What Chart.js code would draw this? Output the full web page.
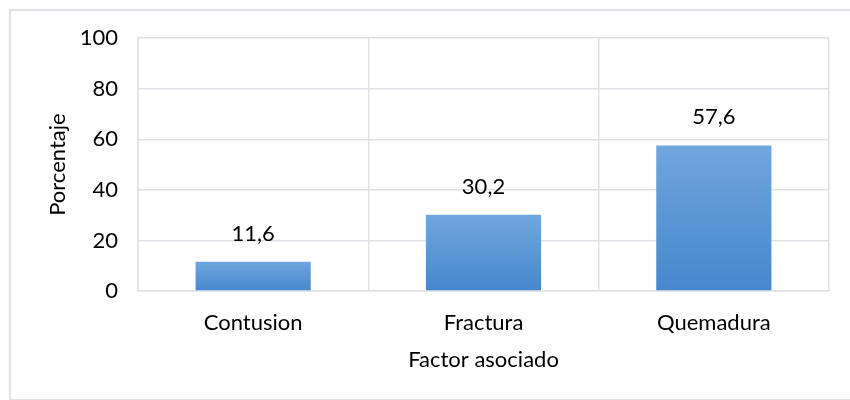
<!DOCTYPE html>
<html>
<head>
<meta charset="utf-8">
<script src="https://cdn.jsdelivr.net/npm/chart.js@4"></script>
<style>
  body { margin: 0; background: #fff; }
  #marco { position: absolute; left: 9px; top: 9px; width: 845px; height: 388px; border: 2px solid #dfe3e8; border-right: none; }
  #caja { position: absolute; left: 11px; top: 5px; width: 843px; height: 394px; }
  canvas { display: block; }
</style>
</head>
<body>
<div id="marco"></div>
<div id="caja"><canvas id="c"></canvas></div>
<script>
// datos del gráfico
const categorias = ['Contusion', 'Fractura', 'Quemadura'];
const porcentajes = [11.6, 30.2, 57.6];
const ticksY = [0, 20, 40, 60, 80, 100];

const fuente = "Lato, 'Open Sans', sans-serif";

function gradienteBarra(ctx) {
  const chart = ctx.chart;
  const area = chart.chartArea;
  if (!area) return '#5b9bd5';
  const y = chart.scales.y;
  const top = y.getPixelForValue(ctx.raw);
  const base = y.getPixelForValue(0);
  const g = chart.ctx.createLinearGradient(0, top, 0, base);
  g.addColorStop(0, '#6fa6dd');
  g.addColorStop(1, '#4787cc');
  return g;
}

const etiquetas = {
  id: 'etiquetas',
  afterDatasetsDraw(chart) {
    const c = chart.ctx;
    const meta = chart.getDatasetMeta(0);
    c.save();
    c.font = '22px ' + fuente;
    c.fillStyle = '#000';
    c.textAlign = 'center';
    c.textBaseline = 'middle';
    meta.data.forEach((bar, i) => {
      c.fillText(porcentajes[i].toFixed(1).replace('.', ','), bar.x, bar.y - 28);
    });
    c.restore();
  }
};

new Chart(document.getElementById('c'), {
  type: 'bar',
  data: {
    labels: categorias,
    datasets: [{
      data: porcentajes,
      backgroundColor: gradienteBarra,
      categoryPercentage: 1,
      barPercentage: 0.5
    }]
  },
  options: {
    responsive: true,
    maintainAspectRatio: false,
    animation: false,
    layout: { padding: { top: 11, right: 25, bottom: 26, left: 34 } },
    plugins: { legend: { display: false }, tooltip: { enabled: false } },
    scales: {
      x: {
        afterFit: s => { s.height = 82; },
        grid: { color: '#dfe3e8', lineWidth: 1.5, offset: true, drawTicks: false },
        border: { color: '#dfe3e8', width: 1.5 },
        ticks: { color: '#000', font: { family: fuente, size: 22 }, padding: 19 },
        title: { display: true, text: 'Factor asociado', color: '#000', font: { family: fuente, size: 22 }, padding: { top: 0, bottom: 0 } }
      },
      y: {
        min: 0, max: 100,
        afterBuildTicks: s => { s.ticks = ticksY.map(v => ({ value: v })); },
        afterFit: s => { s.width = 93; },
        grid: { color: '#dfe3e8', lineWidth: 1.5, drawTicks: false },
        border: { color: '#dfe3e8', width: 1.5 },
        ticks: { color: '#000', font: { family: fuente, size: 22 }, padding: 20 },
        title: { display: true, text: 'Porcentaje', color: '#000', font: { family: fuente, size: 22 }, padding: { top: 0, bottom: 0 } }
      }
    }
  },
  plugins: [etiquetas]
});
</script>
</body>
</html>
